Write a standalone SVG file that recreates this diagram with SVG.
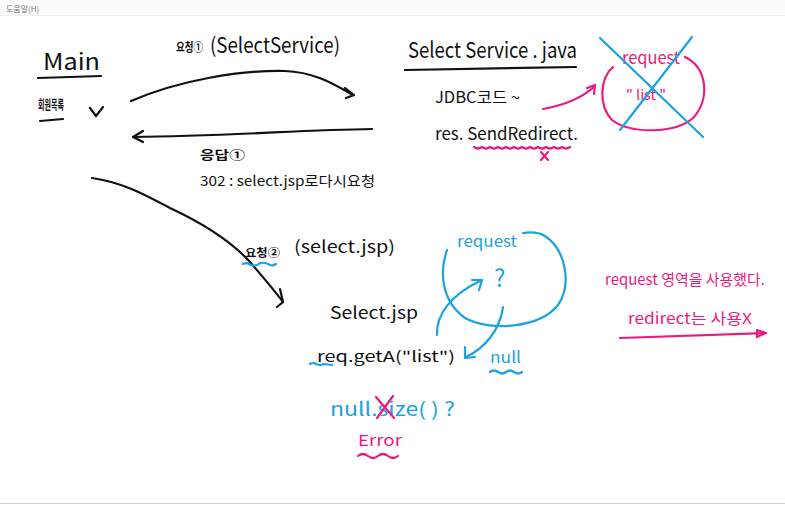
<svg xmlns="http://www.w3.org/2000/svg" width="785" height="505" viewBox="0 0 785 505">
<style>
text{font-family:"Noto Sans CJK KR","Noto Sans",sans-serif}
.k{fill:#111}
.b{fill:#1aa3e0}
.p{fill:#ec1a80}
.sk{fill:none;stroke:#111;stroke-width:2.2;stroke-linecap:round;stroke-linejoin:round}
.sb{fill:none;stroke:#1aa3e0;stroke-width:2.2;stroke-linecap:round;stroke-linejoin:round}
.sp{fill:none;stroke:#ec1a80;stroke-width:2.2;stroke-linecap:round;stroke-linejoin:round}
</style>
<rect width="785" height="505" fill="#fff"/>
<rect width="785" height="15" fill="#fbfbfb"/>
<line x1="0" y1="15.5" x2="785" y2="15.5" stroke="#eeeeee"/>
<text x="6" y="12" font-size="8" fill="#777">도움말(H)</text>
<line x1="0" y1="503.5" x2="785" y2="503.5" stroke="#cfcfcf"/>

<g id="main">
<text x="43" y="70" font-size="23" class="k" textLength="57" lengthAdjust="spacingAndGlyphs">Main</text>
<path class="sk" d="M38 78 L101 76"/>
<text x="38" y="109" font-size="13" class="k" font-weight="bold" textLength="26" lengthAdjust="spacingAndGlyphs">회원목록</text>
<path class="sk" d="M40 121 L63 119"/>
<path class="sk" d="M90 108 L96 116 L103 107"/>
</g>

<g id="connectors">
<path class="sk" d="M131 101 C180 80 240 70 285 71 C315 72 335 85 353 95"/>
<path class="sk" d="M345 88 L354 95 L346 98"/>
<path class="sk" d="M372 129 C300 130 230 136 133 137"/>
<path class="sk" d="M143 131 L133 137 L143 142"/>
<path class="sk" d="M92 178 C120 182 140 192 170 208 C200 222 230 240 250 262 C262 276 274 290 283 302"/>
<path class="sk" d="M280 289 L283 302 L277 307"/>
<path class="sp" d="M543 109 C560 106 580 100 595 86"/>
<path class="sp" d="M587 88 L595 85 L594 94"/>
<path class="sb" d="M437 335 C436 315 450 295 482 280"/>
<path class="sb" d="M472 280 L482 280 L479 290"/>
<path class="sb" d="M503 307 C500 330 485 348 466 357"/>
<path class="sb" d="M465 347 L465 358 L475 357"/>
<path class="sp" d="M620 338 L765 333"/>
<path class="sp" d="M757 330 L766 333 L757 337 Z" fill="#ec1a80"/>
</g>

<g id="req1">
<text x="176" y="52" font-size="12" class="k" font-weight="bold" textLength="27" lengthAdjust="spacingAndGlyphs">요청①</text>
<text x="210" y="53" font-size="21" class="k" textLength="130" lengthAdjust="spacingAndGlyphs">(SelectService)</text>
</g>

<g id="resp1">
<text x="200" y="160" font-size="12" class="k" font-weight="bold" textLength="45" lengthAdjust="spacingAndGlyphs">응답①</text>
<text x="200" y="186" font-size="14" class="k" textLength="175" lengthAdjust="spacingAndGlyphs">302 :  select.jsp로다시요청</text>
</g>

<g id="req2">
<text x="245" y="257" font-size="11" class="k" font-weight="bold" textLength="35" lengthAdjust="spacingAndGlyphs">요청②</text>
<path class="sb" d="M243 264 Q247 262 251 265 Q256 267 260 263 Q265 262 270 265 Q273 266 276 264"/>
<text x="294" y="253" font-size="17" class="k" textLength="101" lengthAdjust="spacingAndGlyphs">(select.jsp)</text>
</g>

<g id="service">
<text x="408" y="58" font-size="22" class="k" textLength="169" lengthAdjust="spacingAndGlyphs">Select Service . java</text>
<path class="sk" d="M405 70 L576 67"/>
<text x="435" y="103" font-size="16" class="k" textLength="85" lengthAdjust="spacingAndGlyphs">JDBC코드 ~</text>
<text x="435" y="140" font-size="17" class="k" textLength="143" lengthAdjust="spacingAndGlyphs">res. SendRedirect.</text>
<path class="sp" d="M474 147 q4 3 8 0 q4 3 8 0 q4 3 8 0 q4 3 8 0 q4 3 8 0 q4 3 8 0 q4 3 8 0 q4 3 8 0 q4 3 8 0 q4 3 8 0 q4 3 8 0 q4 3 8 0"/>
<path class="sp" d="M541 152 L548 160 M548 152 L541 160" stroke-width="1.8"/>
</g>

<g id="request-x">
<text x="622" y="64" font-size="17" class="p" textLength="58" lengthAdjust="spacingAndGlyphs">request</text>
<text x="626" y="100" font-size="14" class="p" textLength="40" lengthAdjust="spacingAndGlyphs">" list "</text>
<path class="sp" d="M613 67 C600 78 598 105 612 120 C630 134 675 134 693 118 C710 100 708 68 685 57"/>
<path class="sb" d="M600 38 L703 137 M692 37 L620 130"/>
</g>

<g id="jsp">
<text x="330" y="319" font-size="17" class="k" textLength="88" lengthAdjust="spacingAndGlyphs">Select.jsp</text>
<text x="317" y="362" font-size="15" class="k" textLength="138" lengthAdjust="spacingAndGlyphs">req.getA("list")</text>
<path class="sb" d="M310 364 q3 -2 6 0 q4 2 8 0 L332 365"/>
<text x="457" y="247" font-size="16" class="b" textLength="60" lengthAdjust="spacingAndGlyphs">request</text>
<path class="sb" d="M447 250 C440 270 440 300 465 318 C490 332 540 328 558 305 C572 285 566 250 545 236 C538 232 530 232 523 233"/>
<text x="494" y="287" font-size="24" class="b">?</text>
<text x="490" y="363" font-size="16" class="b" textLength="31" lengthAdjust="spacingAndGlyphs">null</text>
<path class="sb" d="M490 372 q4 -3 8 0 q4 3 8 0 q4 -3 8 0 q4 3 8 0"/>
</g>

<g id="error">
<text x="330" y="416" font-size="19" class="b" textLength="125" lengthAdjust="spacingAndGlyphs">null.size( ) ?</text>
<path class="sp" d="M376 397 L394 418 M393 396 L377 418"/>
<text x="358" y="446" font-size="15" class="p" textLength="44" lengthAdjust="spacingAndGlyphs">Error</text>
<path class="sp" d="M358 456 q5 -4 10 0 q5 4 10 0 q5 -4 10 0 q5 4 10 0"/>
</g>

<g id="note">
<text x="605" y="285" font-size="15" class="p" textLength="160" lengthAdjust="spacingAndGlyphs">request 영역을 사용했다.</text>
<text x="628" y="324" font-size="15" class="p" textLength="124" lengthAdjust="spacingAndGlyphs">redirect는 사용X</text>
</g>
</svg>
